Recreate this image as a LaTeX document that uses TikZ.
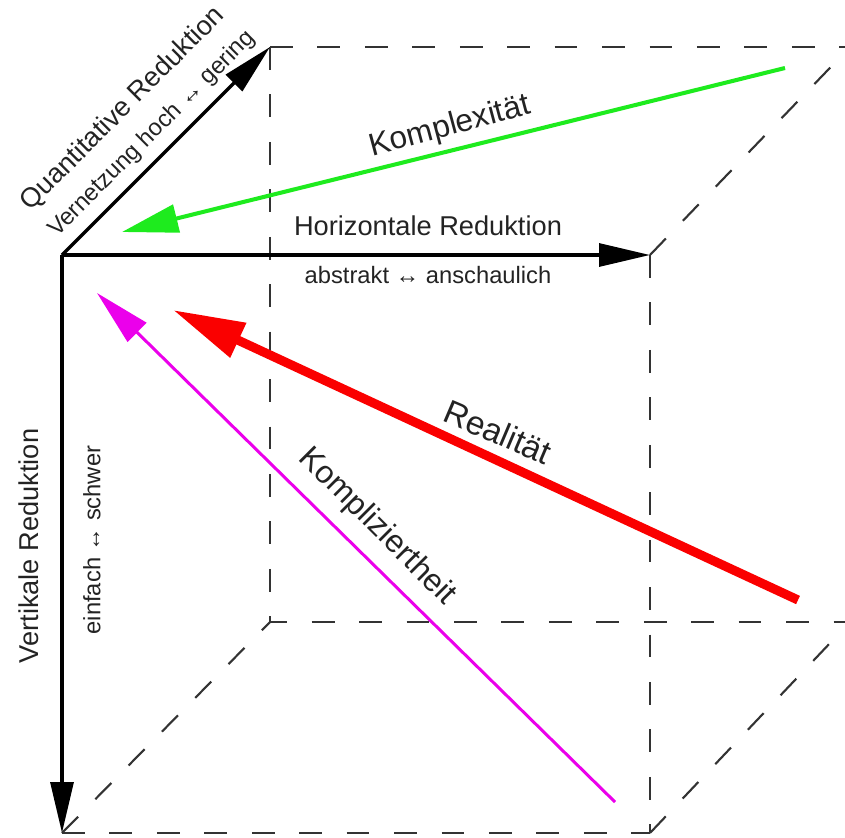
\documentclass[tikz,border=0pt]{standalone}
\usepackage{fontspec}
\setmainfont{Liberation Sans}
\usetikzlibrary{arrows.meta}

\definecolor{kgreen}{RGB}{30,235,30}
\definecolor{kred}{RGB}{250,0,0}
\definecolor{kmagenta}{RGB}{235,0,235}
\definecolor{ktext}{RGB}{35,35,35}

\tikzset{
  axis/.style={line width=2pt,-{Triangle[length=29pt,width=13pt]}},
  cubeedge/.style={line width=1.2pt,black!80,dash pattern=on 13pt off 14pt},
  axislabel/.style={text=ktext,font=\fontsize{15.5}{18}\selectfont},
  sublabel/.style={text=ktext,font=\fontsize{13.5}{16}\selectfont},
  curvelabel/.style={text=ktext,font=\fontsize{18}{21}\selectfont},
}

\begin{document}
\begin{tikzpicture}[x=0.02cm,y=-0.02cm]
\clip (0,0) rectangle (845,838);

\coordinate (origin) at (62,255);
\coordinate (horiz) at (650,255);
\coordinate (vert) at (62,833);
\coordinate (depth) at (270,47);
\coordinate (backtr) at (850,47);
\coordinate (backbl) at (270,622);
\coordinate (backbr) at (850,622);
\coordinate (frontbr) at (650,833);

% dashed cube
\draw[cubeedge] (depth) -- (backtr);
\draw[cubeedge] (depth) -- (backbl) -- (backbr);
\draw[cubeedge] (horiz) -- (backtr);
\draw[cubeedge] (horiz) -- (frontbr);
\draw[cubeedge] (vert) -- (frontbr);
\draw[cubeedge] (vert) -- (backbl);
\draw[cubeedge] (frontbr) -- (backbr);

% axes
\draw[axis] (origin) -- (horiz);
\draw[axis] (origin) -- (vert);
\draw[axis] (origin) -- (depth);

% colored arrows
\coordinate (komplexstart) at (785,68);
\coordinate (komplexend) at (122,232);
\coordinate (realstart) at (798,600);
\coordinate (realend) at (173,310);
\coordinate (komplizstart) at (615,802);
\coordinate (komplizend) at (97,293);

\draw[kgreen,line width=2.3pt,-{Triangle[length=32pt,width=16pt]}] (komplexstart) -- (komplexend);
\draw[kred,line width=5.2pt,-{Triangle[length=41pt,width=20.5pt]}] (realstart) -- (realend);
\draw[kmagenta,line width=1.7pt,-{Triangle[length=32pt,width=15pt]}] (komplizstart) -- (komplizend);

% labels
\node (horizname) at (428,226) [axislabel] {Horizontale Reduktion};
\node (horizscale) at (428,275) [sublabel] {abstrakt ↔ anschaulich};
\node (vertname) at (29,546) [axislabel,rotate=90] {Vertikale Reduktion};
\node (vertscale) at (92,540) [sublabel,rotate=90] {einfach ↔ schwer};
\node (depthname) at (123,109) [axislabel,rotate=45,inner sep=1pt] {Quantitative Reduktion};
\node (depthscale) at (152,134) [sublabel,rotate=45,inner sep=1pt] {Vernetzung hoch ↔ gering};
\node (komplexname) at (450,127) [curvelabel,rotate=15] {Komplexität};
\node (realname) at (498,432) [curvelabel,rotate=-23,font=\fontsize{19}{22}\selectfont] {Realität};
\node (komplizname) at (377,527) [curvelabel,rotate=-45] {Kompliziertheit};
\end{tikzpicture}
\end{document}
